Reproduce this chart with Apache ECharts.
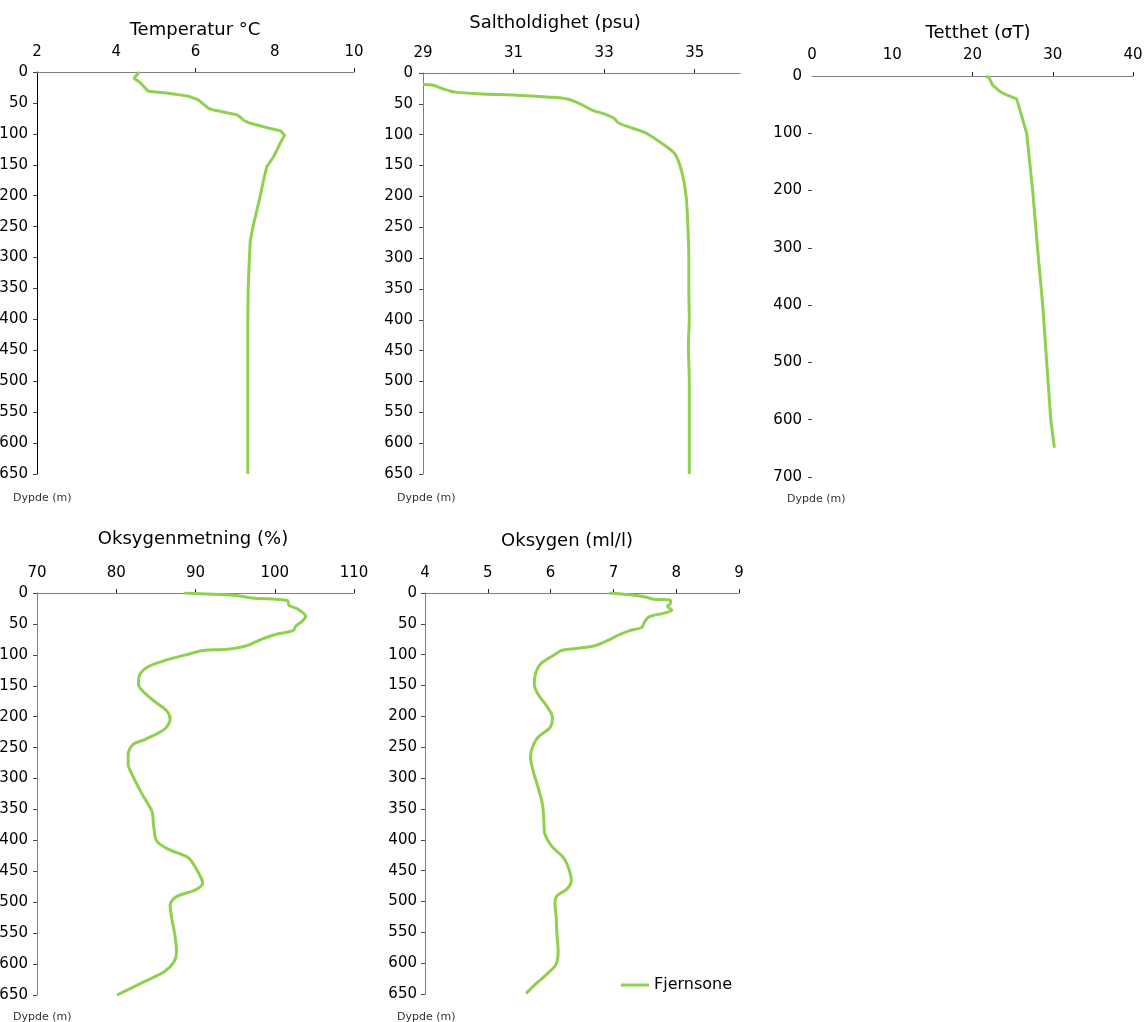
<!DOCTYPE html>
<html>
<head>
<meta charset="utf-8">
<script src="https://cdn.jsdelivr.net/npm/echarts@6/dist/echarts.min.js"></script>
<style>
html,body{margin:0;padding:0;background:#fff;}
#chart{width:1146px;height:1022px;}
</style>
</head>
<body>
<div id="chart"></div>
<script>
// ---------- data ----------
const seriesName = 'Fjernsone';

const tempDepth = [0, 6, 10, 17, 24, 31, 34, 39, 45, 52, 59, 62, 69, 74, 78, 82, 90, 95, 102, 115, 137, 153, 174, 207, 250, 275, 300, 350, 400, 450, 500, 550, 600, 650];
const tempValue = [4.58, 4.50, 4.45, 4.60, 4.70, 4.81, 5.27, 5.82, 6.07, 6.20, 6.33, 6.49, 7.04, 7.15, 7.21, 7.34, 7.80, 8.14, 8.25, 8.14, 7.97, 7.80, 7.72, 7.61, 7.45, 7.38, 7.36, 7.33, 7.32, 7.32, 7.32, 7.32, 7.32, 7.32];

const saltDepth = [18.7, 20, 26, 31, 34, 36, 39, 42, 50, 60, 66, 73, 81, 90, 98, 116, 132, 162, 200, 232, 270, 300, 350, 400, 440, 500, 550, 600, 650];
const saltValue = [29.0, 29.23, 29.45, 29.71, 30.34, 31.07, 31.74, 32.18, 32.47, 32.73, 32.99, 33.21, 33.32, 33.65, 33.94, 34.31, 34.57, 34.72, 34.81, 34.84, 34.86, 34.87, 34.87, 34.88, 34.86, 34.88, 34.88, 34.88, 34.88];

const densDepth = [0, 4, 16, 27, 34, 40, 59, 88, 100, 200, 300, 400, 500, 600, 649];
const densValue = [21.7, 22.1, 22.5, 23.4, 24.4, 25.5, 25.9, 26.5, 26.75, 27.5, 28.1, 28.75, 29.25, 29.75, 30.2];

const satDepth = [0, 2, 4, 8, 12, 20, 26, 38, 45, 53, 61, 67, 75, 85, 91, 93, 99, 107, 118, 131, 147, 158, 175, 191, 204, 220, 237, 245, 261, 277, 296, 326, 353, 374, 401, 415, 428, 444, 469, 480, 491, 504, 526, 553, 580, 596, 612, 628, 650];
const satValue = [88.5, 92.2, 95.2, 97.1, 101.6, 101.8, 102.9, 103.9, 103.5, 102.7, 102.3, 100.1, 98.3, 96.5, 94.0, 91.0, 89.1, 86.7, 84.2, 83.0, 82.8, 83.3, 84.8, 86.4, 86.8, 86.1, 83.6, 82.1, 81.5, 81.5, 82.1, 83.3, 84.5, 84.7, 85.1, 86.7, 89.1, 90.0, 90.9, 90.0, 87.6, 86.8, 87.0, 87.4, 87.6, 87.3, 86.1, 83.6, 80.1];

const oxyDepth = [0, 3, 6, 10, 12, 17, 21, 28, 33, 39, 48, 56, 61, 69, 75, 85, 90, 93, 102, 115, 131, 147, 164, 185, 202, 218, 234, 250, 266, 288, 315, 342, 364, 391, 412, 426, 439, 466, 480, 491, 504, 526, 553, 580, 601, 617, 634, 649];
const oxyValue = [6.93, 7.26, 7.49, 7.64, 7.91, 7.91, 7.86, 7.93, 7.79, 7.56, 7.49, 7.45, 7.26, 7.06, 6.95, 6.72, 6.41, 6.18, 6.03, 5.84, 5.76, 5.74, 5.80, 5.95, 6.03, 5.99, 5.80, 5.71, 5.68, 5.72, 5.80, 5.87, 5.89, 5.91, 6.03, 6.18, 6.26, 6.33, 6.26, 6.10, 6.07, 6.09, 6.10, 6.12, 6.09, 5.95, 5.76, 5.61];

// tick labels
const tempTicks = [2, 4, 6, 8, 10];
const tempTickMarks = [6, 10];
const saltTicks = [29, 31, 33, 35];
const saltTickMarks = [31, 33, 35];
const densTicks = [0, 10, 20, 30, 40];
const densTickMarks = [20, 30, 40];
const satTicks = [70, 80, 90, 100, 110];
const satTickMarks = [80, 90, 100, 110];
const oxyTicks = [4, 5, 6, 7, 8, 9];
const oxyTickMarks = [5, 6, 7, 8, 9];
const depthTicks = [0, 50, 100, 150, 200, 250, 300, 350, 400, 450, 500, 550, 600, 650];
const densDepthTicks = [0, 100, 200, 300, 400, 500, 600, 700];
const densDepthTickMarks = [100, 200, 300, 400, 500, 600, 700];

const titles = ['Temperatur °C', 'Saltholdighet (psu)', 'Tetthet (σT)', 'Oksygenmetning (%)', 'Oksygen (ml/l)'];
const depthLabel = 'Dypde (m)';

// ---------- chart ----------
const FONT = 'DejaVu Sans';
const GREEN = '#8fd14f';
const GREY = '#7f7f7f';

function pairs(vals, depths) { return vals.map((v, i) => [v, depths[i]]); }

function xAxis(gi, min, max, labels, marks, margin) {
  return {
    type: 'value', gridIndex: gi, position: 'top', min: min, max: max,
    axisLine: { show: true, lineStyle: { color: GREY, width: 1 } },
    axisTick: { show: true, inside: false, length: 4, customValues: marks, lineStyle: { color: '#222' } },
    axisLabel: { show: true, customValues: labels, margin: margin, color: '#000', fontFamily: FONT, fontSize: 15 },
    splitLine: { show: false }
  };
}
function yAxis(gi, max, labels, marks, margin, lineColor, showLine) {
  return {
    type: 'value', gridIndex: gi, inverse: true, min: 0, max: max,
    axisLine: { show: showLine, onZero: false, lineStyle: { color: lineColor, width: 1 } },
    axisTick: { show: true, inside: false, length: 4, customValues: marks, lineStyle: { color: '#444' } },
    axisLabel: { show: true, customValues: labels, margin: margin, color: '#000', fontFamily: FONT, fontSize: 15 },
    splitLine: { show: false }
  };
}
function line(gi, data, smooth) {
  return {
    name: seriesName, type: 'line', xAxisIndex: gi, yAxisIndex: gi,
    data: data, showSymbol: false, symbol: 'none', smooth: smooth, clip: true,
    lineStyle: { color: GREEN, width: 3 }, itemStyle: { color: GREEN }
  };
}
function titleText(txt, x, y) {
  return { type: 'text', x: x, y: y, style: { text: txt, fill: '#000', font: '18px "' + FONT + '"', textAlign: 'center', textVerticalAlign: 'middle' } };
}
function smallText(txt, x, y) {
  return { type: 'text', x: x, y: y, style: { text: txt, fill: '#333', font: '11px "' + FONT + '"', textAlign: 'left', textVerticalAlign: 'middle' } };
}

const chart = echarts.init(document.getElementById('chart'), null, { renderer: 'canvas' });
const option = {
  animation: false,
  backgroundColor: '#fff',
  grid: [
    { left: 37, top: 72, width: 317, height: 402, outerBoundsMode: 'none', containLabel: false },
    { left: 423, top: 73, width: 317, height: 401, outerBoundsMode: 'none', containLabel: false },
    { left: 812, top: 76, width: 321, height: 401, outerBoundsMode: 'none', containLabel: false },
    { left: 37, top: 593, width: 317, height: 402, outerBoundsMode: 'none', containLabel: false },
    { left: 425, top: 593, width: 314, height: 401, outerBoundsMode: 'none', containLabel: false }
  ],
  xAxis: [
    xAxis(0, 2, 10, tempTicks, tempTickMarks, 12),
    xAxis(1, 29, 36, saltTicks, saltTickMarks, 12),
    xAxis(2, 0, 40, densTicks, densTickMarks, 13),
    xAxis(3, 70, 110, satTicks, satTickMarks, 12),
    xAxis(4, 4, 9, oxyTicks, oxyTickMarks, 12)
  ],
  yAxis: [
    yAxis(0, 650, depthTicks, depthTicks, 9, '#000', true),
    yAxis(1, 650, depthTicks, depthTicks, 10, GREY, true),
    yAxis(2, 700, densDepthTicks, densDepthTickMarks, 10, GREY, false),
    yAxis(3, 650, depthTicks, depthTicks, 9, GREY, true),
    yAxis(4, 650, depthTicks, depthTicks, 8, GREY, true)
  ],
  legend: {
    data: [seriesName], left: 621, top: 977, icon: 'rect', itemWidth: 28, itemHeight: 3, itemGap: 10,
    textStyle: { color: '#000', fontFamily: FONT, fontSize: 16 }, padding: 0
  },
  graphic: [
    titleText(titles[0], 195, 30),
    titleText(titles[1], 555, 23),
    titleText(titles[2], 978, 33),
    titleText(titles[3], 193, 539),
    titleText(titles[4], 567, 541),
    smallText(depthLabel, 13, 498),
    smallText(depthLabel, 397, 498),
    smallText(depthLabel, 787, 499),
    smallText(depthLabel, 13, 1017),
    smallText(depthLabel, 397, 1017)
  ],
  series: [
    line(0, pairs(tempValue, tempDepth), false),
    line(1, pairs(saltValue, saltDepth), 0.3),
    line(2, pairs(densValue, densDepth), false),
    line(3, pairs(satValue, satDepth), 0.3),
    line(4, pairs(oxyValue, oxyDepth), 0.3)
  ]
};
chart.setOption(option);
</script>
</body>
</html>
